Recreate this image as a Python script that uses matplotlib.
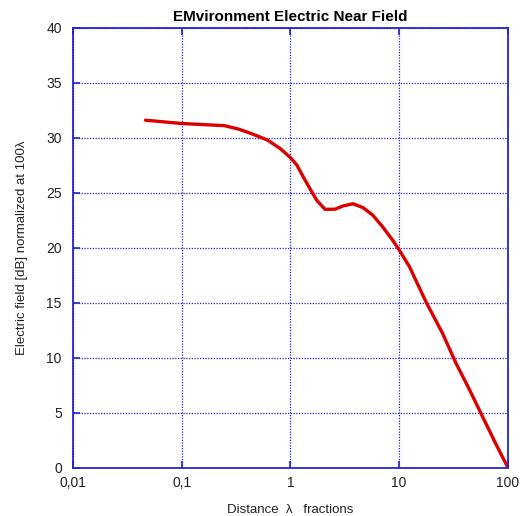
import matplotlib
matplotlib.use("Agg")
import matplotlib.pyplot as plt
from matplotlib.ticker import FixedLocator, FixedFormatter, NullLocator

plt.rcParams['font.family'] = ['Liberation Sans', 'DejaVu Sans']

distance = [0.0465, 0.1, 0.158, 0.248, 0.331, 0.433, 0.614, 0.811, 1.0, 1.15, 1.32,
            1.57, 1.75, 2.08, 2.56, 3.05, 3.77, 4.65, 5.73, 7.05, 8.69, 10.0, 12.4,
            17.6, 25.1, 33.3, 44.3, 58.7, 78.0, 100.0]
field_db = [31.6, 31.3, 31.2, 31.1, 30.8, 30.4, 29.8, 29.0, 28.2, 27.5, 26.4,
            25.1, 24.3, 23.5, 23.5, 23.8, 24.0, 23.65, 22.96, 21.9, 20.7, 19.8, 18.3,
            15.1, 12.2, 9.5, 7.1, 4.6, 2.1, 0.0]

x_ticks = [0.01, 0.1, 1, 10, 100]
x_labels = ["0,01", "0,1", "1", "10", "100"]
y_ticks = [0, 5, 10, 15, 20, 25, 30, 35, 40]

blue = '#2424d0'
fig = plt.figure(figsize=(5.28, 5.16), dpi=100)
ax = fig.add_axes([0.138, 0.0936, 0.824, 0.8525])
ax.plot(distance, field_db, color='#dd0000', linewidth=2.4,
        solid_capstyle='round', solid_joinstyle='round')
ax.set_xscale('log')
ax.set_xlim(0.01, 100)
ax.set_ylim(0, 40)
ax.xaxis.set_major_locator(FixedLocator(x_ticks))
ax.xaxis.set_major_formatter(FixedFormatter(x_labels))
ax.xaxis.set_minor_locator(NullLocator())
ax.set_yticks(y_ticks)
ax.grid(True, color=blue, linestyle=(0, (1, 1.2)), linewidth=0.9)
for s in ax.spines.values():
    s.set_color(blue)
    s.set_linewidth(1.3)
ax.tick_params(axis='both', direction='in', length=5, color=blue, width=1.2,
               labelsize=10, labelcolor='#222222', top=True, right=False, pad=8)
ax.tick_params(axis='x', pad=6)
ax.set_title("EMvironment Electric Near Field", fontsize=11, fontweight='bold', pad=5)
ax.set_xlabel("Distance  \u03bb   fractions", fontsize=9.5, color='#222222', labelpad=10)
ax.set_ylabel("Electric field [dB] normalized at 100\u03bb", fontsize=9.5, color='#222222', labelpad=13)
fig.savefig("out.png", dpi=100)
